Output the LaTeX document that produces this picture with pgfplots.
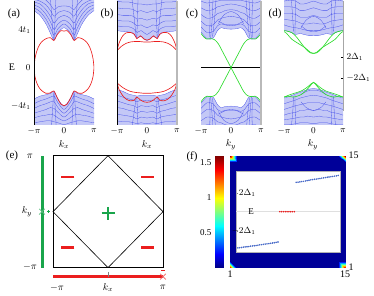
\documentclass[border=0pt]{standalone}
\usepackage{fontspec}
\setmainfont{Liberation Serif}
\usepackage{pgfplots}
\pgfplotsset{compat=1.18}
\usepackage{pgfplotstable}

\definecolor{bfillc}{RGB}{196,200,246}
\definecolor{blinec}{RGB}{75,85,235}
\definecolor{redc}{RGB}{235,30,30}
\definecolor{greenc}{RGB}{45,220,45}
\definecolor{greenE}{RGB}{25,165,75}
\definecolor{dotc}{RGB}{70,105,200}

\pgfplotstableread{
k env l1 l2 l3 l4 l5
-1 6.0 6.3 6.6 6.9 7.2 7.5
-0.8 5.5 5.9 6.3 6.7 7.0 7.4
-0.6 4.6 5.1 5.6 6.1 6.6 7.1
-0.45 3.6 4.2 4.8 5.4 6.0 6.6
-0.33 2.9 3.4 4.0 4.7 5.4 6.1
-0.2 3.7 4.1 4.6 5.2 5.8 6.4
0 4.2 4.6 5.0 5.5 6.0 6.5
0.2 3.7 4.1 4.6 5.2 5.8 6.4
0.33 2.9 3.4 4.0 4.7 5.4 6.1
0.45 3.6 4.2 4.8 5.4 6.0 6.6
0.6 4.6 5.1 5.6 6.1 6.6 7.1
0.8 5.5 5.9 6.3 6.7 7.0 7.4
1 6.0 6.3 6.6 6.9 7.2 7.5
}\aU
\pgfplotstableread{
k env l1 l2 l3 l4 l5
-1 -3.3 -3.8 -4.3 -4.8 -5.3 -5.8
-0.8 -3.0 -3.5 -4.0 -4.6 -5.1 -5.7
-0.6 -2.85 -3.3 -3.8 -4.4 -5.0 -5.6
-0.45 -2.7 -3.1 -3.6 -4.2 -4.9 -5.6
-0.33 -2.5 -3.0 -3.6 -4.3 -5.0 -5.7
-0.2 -3.3 -3.7 -4.2 -4.7 -5.3 -5.8
0 -4.05 -4.4 -4.8 -5.2 -5.6 -6.0
0.2 -3.3 -3.7 -4.2 -4.7 -5.3 -5.8
0.33 -2.5 -3.0 -3.6 -4.3 -5.0 -5.7
0.45 -2.7 -3.1 -3.6 -4.2 -4.9 -5.6
0.6 -2.85 -3.3 -3.8 -4.4 -5.0 -5.6
0.8 -3.0 -3.5 -4.0 -4.6 -5.1 -5.7
1 -3.3 -3.8 -4.3 -4.8 -5.3 -5.8
}\aL
\pgfplotstableread{
k env l1 l2 l3 l4 l5
-1 3.9 4.4 5.0 5.6 6.3 7.0
-0.8 3.8 4.3 4.9 5.5 6.2 6.9
-0.6 3.75 4.3 4.9 5.5 6.2 6.9
-0.45 3.6 4.1 4.7 5.4 6.1 6.8
-0.33 3.1 3.7 4.4 5.1 5.9 6.7
-0.2 3.3 3.9 4.5 5.2 6.0 6.7
0 2.85 3.5 4.2 5.0 5.8 6.6
0.2 3.3 3.9 4.5 5.2 6.0 6.7
0.33 3.1 3.7 4.4 5.1 5.9 6.7
0.45 3.6 4.1 4.7 5.4 6.1 6.8
0.6 3.75 4.3 4.9 5.5 6.2 6.9
0.8 3.8 4.3 4.9 5.5 6.2 6.9
1 3.9 4.4 5.0 5.6 6.3 7.0
}\bU
\pgfplotstableread{
k env l1 l2 l3 l4 l5
-1 -2.3 -2.9 -3.5 -4.2 -4.9 -5.6
-0.8 -2.5 -3.1 -3.7 -4.3 -5.0 -5.7
-0.6 -2.8 -3.3 -3.9 -4.5 -5.1 -5.7
-0.45 -2.9 -3.4 -4.0 -4.6 -5.2 -5.8
-0.33 -3.0 -3.6 -4.2 -4.8 -5.4 -5.9
-0.2 -2.9 -3.4 -4.0 -4.6 -5.2 -5.8
0 -2.9 -3.5 -4.1 -4.7 -5.3 -5.9
0.2 -2.9 -3.4 -4.0 -4.6 -5.2 -5.8
0.33 -3.0 -3.6 -4.2 -4.8 -5.4 -5.9
0.45 -2.9 -3.4 -4.0 -4.6 -5.2 -5.8
0.6 -2.8 -3.3 -3.9 -4.5 -5.1 -5.7
0.8 -2.5 -3.1 -3.7 -4.3 -5.0 -5.7
1 -2.3 -2.9 -3.5 -4.2 -4.9 -5.6
}\bL
\pgfplotstableread{
k env l1 l2 l3 l4 l5
-1 3.75 4.3 4.9 5.6 6.3 7.0
-0.8 3.05 3.7 4.4 5.2 6.0 6.8
-0.6 3.1 3.8 4.5 5.3 6.1 6.9
-0.45 3.9 4.4 5.0 5.7 6.4 7.0
-0.33 4.2 4.6 5.2 5.8 6.5 7.1
-0.2 4.1 4.5 5.3 6.0 6.6 7.1
0 4.05 4.4 5.4 6.1 6.7 7.1
0.2 4.1 4.5 5.3 6.0 6.6 7.1
0.33 4.2 4.6 5.2 5.8 6.5 7.1
0.45 3.9 4.4 5.0 5.7 6.4 7.0
0.6 3.1 3.8 4.5 5.3 6.1 6.9
0.8 3.05 3.7 4.4 5.2 6.0 6.8
1 3.75 4.3 4.9 5.6 6.3 7.0
}\cU
\pgfplotstableread{
k env l1 l2 l3 l4 l5
-1 -3.75 -4.3 -4.9 -5.6 -6.3 -7.0
-0.8 -3.05 -3.7 -4.4 -5.2 -6.0 -6.8
-0.6 -3.1 -3.8 -4.5 -5.3 -6.1 -6.9
-0.45 -3.9 -4.4 -5.0 -5.7 -6.4 -7.0
-0.33 -4.2 -4.6 -5.2 -5.8 -6.5 -7.1
-0.2 -4.1 -4.5 -5.3 -6.0 -6.6 -7.1
0 -4.05 -4.4 -5.4 -6.1 -6.7 -7.1
0.2 -4.1 -4.5 -5.3 -6.0 -6.6 -7.1
0.33 -4.2 -4.6 -5.2 -5.8 -6.5 -7.1
0.45 -3.9 -4.4 -5.0 -5.7 -6.4 -7.0
0.6 -3.1 -3.8 -4.5 -5.3 -6.1 -6.9
0.8 -3.05 -3.7 -4.4 -5.2 -6.0 -6.8
1 -3.75 -4.3 -4.9 -5.6 -6.3 -7.0
}\cL
\pgfplotstableread{
k env l1 l2 l3 l4 l5
-1 3.95 4.5 5.1 5.7 6.4 7.0
-0.8 3.75 4.3 5.0 5.7 6.4 7.1
-0.6 3.5 4.2 4.9 5.6 6.3 7.0
-0.45 3.6 4.1 4.7 5.3 6.0 6.7
-0.33 3.5 4.0 4.6 5.3 6.0 6.7
-0.2 3.4 3.9 4.6 5.3 6.1 6.8
0 3.4 3.9 4.7 5.5 6.3 7.0
0.2 3.4 3.9 4.6 5.3 6.1 6.8
0.33 3.5 4.0 4.6 5.3 6.0 6.7
0.45 3.6 4.1 4.7 5.3 6.0 6.7
0.6 3.5 4.2 4.9 5.6 6.3 7.0
0.8 3.75 4.3 5.0 5.7 6.4 7.1
1 3.95 4.5 5.1 5.7 6.4 7.0
}\dU
\pgfplotstableread{
k env l1 l2 l3 l4 l5
-1 -3.2 -3.8 -4.4 -5.0 -5.5 -6.0
-0.8 -3.0 -3.6 -4.2 -4.8 -5.4 -6.0
-0.6 -2.75 -3.4 -4.0 -4.7 -5.3 -5.9
-0.45 -2.6 -3.2 -3.9 -4.5 -5.2 -5.8
-0.33 -2.45 -3.1 -3.8 -4.5 -5.2 -5.8
-0.2 -2.3 -3.0 -3.7 -4.4 -5.1 -5.8
0 -2.2 -2.9 -3.7 -4.5 -5.2 -5.9
0.2 -2.3 -3.0 -3.7 -4.4 -5.1 -5.8
0.33 -2.45 -3.1 -3.8 -4.5 -5.2 -5.8
0.45 -2.6 -3.2 -3.9 -4.5 -5.2 -5.8
0.6 -2.75 -3.4 -4.0 -4.7 -5.3 -5.9
0.8 -3.0 -3.6 -4.2 -4.8 -5.4 -6.0
1 -3.2 -3.8 -4.4 -5.0 -5.5 -6.0
}\dL

\pgfplotsset{
  band/.style={anchor=south west, scale only axis, width=60pt, height=124pt,
    xmin=-1, xmax=1, ymin=-6, ymax=7.05,
    axis line style={draw=none}, xtick={-1,0,1}, xticklabels={$-\pi$,$0$,$\pi$},
    ytick=\empty, major tick length=0pt,
    tick label style={font=\fontsize{9}{10}\selectfont}},
  bl/.style={draw=blinec, line width=0.3pt, smooth, no markers},
  edge/.style={line width=0.65pt, smooth, no markers},
}
\pgfplotsset{/pgf/number format/assume math mode=true}

\newcommand{\bulk}[2]{%
  \addplot[fill=bfillc, draw=none, smooth, no markers] table[x=k,y=env]{#1} -- (axis cs:1,#2) -- (axis cs:-1,#2) -- cycle;
  \addplot[bl] table[x=k,y=env]{#1};
  \addplot[bl] table[x=k,y=l1]{#1};
  \addplot[bl] table[x=k,y=l2]{#1};
  \addplot[bl] table[x=k,y=l3]{#1};
  \addplot[bl] table[x=k,y=l4]{#1};
  \addplot[bl] table[x=k,y=l5]{#1};
}

\begin{document}
\begin{tikzpicture}
\path (0pt,0pt) rectangle (374pt,295pt);

% ---------- (a)
\begin{axis}[band, at={(34pt,171pt)}, ytick={-4,0,4}, yticklabels={$-4t_1$,$0$,$4t_1$}]
\bulk{\aU}{7.4}
\bulk{\aL}{-6.4}
\addplot[bl] coordinates {(-0.45,7.2) (-0.40,5.0) (-0.35,3.0)};
\addplot[bl] coordinates {(-0.27,7.2) (-0.30,5.0) (-0.33,3.0)};
\addplot[bl] coordinates {(0.45,7.2) (0.40,5.0) (0.35,3.0)};
\addplot[bl] coordinates {(0.27,7.2) (0.30,5.0) (0.33,3.0)};
\addplot[bl] coordinates {(-0.42,-6.2) (-0.38,-4.5) (-0.35,-2.6)};
\addplot[bl] coordinates {(-0.26,-6.2) (-0.29,-4.5) (-0.32,-2.6)};
\addplot[bl] coordinates {(0.42,-6.2) (0.38,-4.5) (0.35,-2.6)};
\addplot[bl] coordinates {(0.26,-6.2) (0.29,-4.5) (0.32,-2.6)};
\addplot[edge, redc] coordinates {(-1,0) (-0.97,0.9) (-0.92,1.6) (-0.85,2.2) (-0.75,2.7) (-0.6,3.05) (-0.45,3.15) (-0.34,2.85) (-0.22,3.5) (-0.1,3.9) (0,3.85) (0.1,3.9) (0.22,3.5) (0.34,2.85) (0.45,3.15) (0.6,3.05) (0.75,2.7) (0.85,2.2) (0.92,1.6) (0.97,0.9) (1,0)};
\addplot[edge, redc] coordinates {(-1,0) (-0.97,-0.9) (-0.92,-1.5) (-0.85,-2.0) (-0.75,-2.4) (-0.6,-2.7) (-0.45,-2.65) (-0.34,-2.45) (-0.22,-3.2) (-0.1,-3.85) (0,-4.0) (0.1,-3.85) (0.22,-3.2) (0.34,-2.45) (0.45,-2.65) (0.6,-2.7) (0.75,-2.4) (0.85,-2.0) (0.92,-1.5) (0.97,-0.9) (1,0)};
\end{axis}

% ---------- (b)
\begin{axis}[band, at={(117pt,171pt)}]
\bulk{\bU}{7.4}
\bulk{\bL}{-6.4}
\addplot[bl] coordinates {(-0.5,7.2) (-0.42,5) (-0.36,3.2)};
\addplot[bl] coordinates {(-0.3,7.2) (-0.32,5) (-0.34,3.2)};
\addplot[bl] coordinates {(0.5,7.2) (0.42,5) (0.36,3.2)};
\addplot[bl] coordinates {(0.3,7.2) (0.32,5) (0.34,3.2)};
\addplot[bl] coordinates {(-0.5,-6.2) (-0.42,-4.5) (-0.36,-3.1)};
\addplot[bl] coordinates {(-0.3,-6.2) (-0.32,-4.5) (-0.34,-3.1)};
\addplot[bl] coordinates {(0.5,-6.2) (0.42,-4.5) (0.36,-3.1)};
\addplot[bl] coordinates {(0.3,-6.2) (0.32,-4.5) (0.34,-3.1)};
\addplot[edge, redc] coordinates {(-1,1.8) (-0.93,2.6) (-0.82,3.3) (-0.7,3.65) (-0.55,3.7) (-0.42,3.5) (-0.34,3.05) (-0.22,3.35) (-0.1,3.0) (0,2.9) (0.1,3.0) (0.22,3.35) (0.34,3.05) (0.42,3.5) (0.55,3.7) (0.7,3.65) (0.82,3.3) (0.93,2.6) (1,1.8)};
\addplot[edge, redc] coordinates {(-1,1.8) (-0.85,2.25) (-0.7,2.55) (-0.55,2.7) (-0.4,2.75) (-0.25,2.75) (-0.1,2.7) (0,2.7) (0.1,2.7) (0.25,2.75) (0.4,2.75) (0.55,2.7) (0.7,2.55) (0.85,2.25) (1,1.8)};
\addplot[edge, redc] coordinates {(-1,-1.6) (-0.85,-2.0) (-0.7,-2.3) (-0.55,-2.5) (-0.4,-2.6) (-0.25,-2.65) (-0.1,-2.7) (0,-2.7) (0.1,-2.7) (0.25,-2.65) (0.4,-2.6) (0.55,-2.5) (0.7,-2.3) (0.85,-2.0) (1,-1.6)};
\addplot[edge, redc] coordinates {(-1,-1.6) (-0.93,-2.3) (-0.82,-2.9) (-0.7,-3.3) (-0.55,-3.5) (-0.42,-3.4) (-0.34,-3.1) (-0.22,-3.4) (-0.1,-3.6) (0,-3.65) (0.1,-3.6) (0.22,-3.4) (0.34,-3.1) (0.42,-3.4) (0.55,-3.5) (0.7,-3.3) (0.82,-2.9) (0.93,-2.3) (1,-1.6)};
\end{axis}

% ---------- (c)
\begin{axis}[band, at={(201pt,171pt)}]
\bulk{\cU}{7.4}
\bulk{\cL}{-6.4}
\addplot[bl] coordinates {(-0.72,7.2) (-0.7,5) (-0.72,3.2)};
\addplot[bl] coordinates {(-0.6,7.2) (-0.63,5) (-0.68,3.1)};
\addplot[bl] coordinates {(-0.5,7.2) (-0.55,5) (-0.62,3.2)};
\addplot[bl] coordinates {(0.72,7.2) (0.7,5) (0.72,3.2)};
\addplot[bl] coordinates {(0.6,7.2) (0.63,5) (0.68,3.1)};
\addplot[bl] coordinates {(0.5,7.2) (0.55,5) (0.62,3.2)};
\addplot[bl] coordinates {(-0.72,-7.2) (-0.7,-5) (-0.72,-3.2)};
\addplot[bl] coordinates {(-0.6,-7.2) (-0.63,-5) (-0.68,-3.1)};
\addplot[bl] coordinates {(-0.5,-7.2) (-0.55,-5) (-0.62,-3.2)};
\addplot[bl] coordinates {(0.72,-7.2) (0.7,-5) (0.72,-3.2)};
\addplot[bl] coordinates {(0.6,-7.2) (0.63,-5) (0.68,-3.1)};
\addplot[bl] coordinates {(0.5,-7.2) (0.55,-5) (0.62,-3.2)};
\addplot[bl] coordinates {(-0.42,4.6) (-0.25,5.5) (0,5.9) (0.25,5.5) (0.42,4.6)};
\addplot[bl] coordinates {(-0.42,4.9) (-0.2,4.55) (0,4.5) (0.2,4.55) (0.42,4.9)};
\addplot[bl] coordinates {(-0.42,-4.6) (-0.25,-5.5) (0,-5.9) (0.25,-5.5) (0.42,-4.6)};
\addplot[bl] coordinates {(-0.42,-4.9) (-0.2,-4.55) (0,-4.5) (0.2,-4.55) (0.42,-4.9)};
\addplot[black, line width=0.6pt] coordinates {(-1,0) (1,0)};
\addplot[edge, greenc] coordinates {(-1,3.6) (-0.9,3.2) (-0.8,3.0) (-0.7,3.05) (-0.55,2.95) (-0.42,2.5) (-0.3,1.8) (-0.15,0.9) (0,0) (0.15,-0.9) (0.3,-1.8) (0.42,-2.5) (0.55,-2.95) (0.7,-3.05) (0.8,-3.0) (0.9,-3.2) (1,-3.6)};
\addplot[edge, greenc] coordinates {(1,3.6) (0.9,3.2) (0.8,3.0) (0.7,3.05) (0.55,2.95) (0.42,2.5) (0.3,1.8) (0.15,0.9) (0,0) (-0.15,-0.9) (-0.3,-1.8) (-0.42,-2.5) (-0.55,-2.95) (-0.7,-3.05) (-0.8,-3.0) (-0.9,-3.2) (-1,-3.6)};
\end{axis}

% ---------- (d)
\begin{axis}[band, at={(284pt,171pt)}, width=59pt, ytick={-1.1,1.1}, yticklabels={$-2\Delta_1$,$2\Delta_1$}, yticklabel pos=right, ytick pos=right, major tick length=2pt, tick align=inside, xtick style={draw=none}, ytick style={draw=black, line width=0.5pt}]
\bulk{\dU}{7.4}
\bulk{\dL}{-6.4}
\addplot[bl] coordinates {(-0.75,7.2) (-0.7,5) (-0.68,3.8)};
\addplot[bl] coordinates {(-0.6,7.2) (-0.62,5) (-0.63,3.6)};
\addplot[bl] coordinates {(0.75,7.2) (0.7,5) (0.68,3.8)};
\addplot[bl] coordinates {(0.6,7.2) (0.62,5) (0.63,3.6)};
\addplot[bl] coordinates {(-0.75,-6.2) (-0.7,-4.5) (-0.68,-3.0)};
\addplot[bl] coordinates {(-0.6,-6.2) (-0.62,-4.5) (-0.63,-2.9)};
\addplot[bl] coordinates {(0.75,-6.2) (0.7,-4.5) (0.68,-3.0)};
\addplot[bl] coordinates {(0.6,-6.2) (0.62,-4.5) (0.63,-2.9)};
\addplot[bl] coordinates {(-0.42,4.2) (-0.25,5.0) (0,5.4) (0.25,5.0) (0.42,4.2)};
\addplot[bl] coordinates {(-0.42,4.4) (-0.2,3.9) (0,3.8) (0.2,3.9) (0.42,4.4)};
\addplot[bl] coordinates {(-0.42,-2.8) (-0.2,-2.45) (0,-2.4) (0.2,-2.45) (0.42,-2.8)};
\addplot[bl] coordinates {(-0.42,-3.6) (-0.25,-4.2) (0,-4.5) (0.25,-4.2) (0.42,-3.6)};
\addplot[edge, greenc] coordinates {(-1,3.9) (-0.74,3.7) (-0.57,3.2) (-0.4,2.5) (-0.23,1.86) (-0.1,1.55) (0,1.5) (0.1,1.55) (0.23,1.86) (0.4,2.5) (0.57,3.2) (0.74,3.7) (1,3.9)};
\addplot[edge, greenc] coordinates {(-1,3.8) (-0.91,3.6) (-0.74,3.0) (-0.52,2.55) (-0.29,2.1) (-0.12,1.65) (0,1.5) (0.12,1.65) (0.29,2.1) (0.52,2.55) (0.74,3.0) (0.91,3.6) (1,3.8)};
\addplot[edge, greenc] coordinates {(-1,-3.1) (-0.8,-2.85) (-0.6,-2.65) (-0.45,-2.5) (-0.3,-2.25) (-0.15,-1.9) (0,-1.55) (0.15,-1.9) (0.3,-2.25) (0.45,-2.5) (0.6,-2.65) (0.8,-2.85) (1,-3.1)};
\addplot[edge, greenc] coordinates {(-1,-3.1) (-0.85,-3.0) (-0.7,-3.1) (-0.55,-3.0) (-0.4,-2.8) (-0.25,-2.4) (-0.12,-1.95) (0,-1.55) (0.12,-1.95) (0.25,-2.4) (0.4,-2.8) (0.55,-3.0) (0.7,-3.1) (0.85,-3.0) (1,-3.1)};
\end{axis}

% frame lines of the band panels
\draw[black, line width=0.7pt] (34pt,171pt) -- (34pt,295pt);
\draw[black, line width=0.7pt] (117pt,171pt) -- (117pt,295pt);
\draw[gray!55, line width=1.3pt] (177pt,171pt) -- (177pt,295pt);
\draw[gray!55, line width=1.3pt] (261pt,171pt) -- (261pt,295pt);
\draw[gray!70, line width=0.9pt] (343pt,185pt) -- (343pt,295pt);

% labels top row
\node[font=\fontsize{11}{12}\selectfont] at (14pt,282pt) {(a)};
\node[font=\fontsize{11}{12}\selectfont] at (107pt,282pt) {(b)};
\node[font=\fontsize{11}{12}\selectfont] at (192pt,282pt) {(c)};
\node[font=\fontsize{11}{12}\selectfont] at (275pt,282pt) {(d)};
\node[font=\fontsize{10}{11}\selectfont] at (12pt,228pt) {E};
\node[font=\fontsize{10}{11}\selectfont] at (64pt,151pt) {$k_x$};
\node[font=\fontsize{10}{11}\selectfont] at (147pt,151pt) {$k_x$};
\node[font=\fontsize{10}{11}\selectfont] at (231pt,151pt) {$k_y$};
\node[font=\fontsize{10}{11}\selectfont] at (313pt,151pt) {$k_y$};

% ---------- (e)
\begin{axis}[anchor=south west, at={(53pt,28pt)}, scale only axis, width=110pt, height=112pt,
  xmin=-1, xmax=1, ymin=-1, ymax=1, hide axis, clip=false]
\addplot[black, line width=0.6pt] coordinates {(-1,-1) (1,-1) (1,1) (-1,1) (-1,-1)};
\addplot[black, line width=0.6pt] coordinates {(0,-1) (1,0) (0,1) (-1,0) (0,-1)};
\addplot[only marks, mark=-, mark size=6.5pt, redc, line width=2.2pt] coordinates {(-0.73,0.625) (0.71,0.625) (-0.73,-0.64) (0.71,-0.64)};
\addplot[only marks, mark=+, mark size=6.5pt, greenE, line width=2.2pt] coordinates {(0,-0.03)};
\addplot[greenE, line width=3pt] coordinates {(-1.2,-1) (-1.2,1)};
\addplot[only marks, mark=x, mark size=4pt, greenE!70, line width=0.8pt] coordinates {(-1.2,0)};
\addplot[only marks, mark=+, mark size=1.6pt, greenE, line width=0.6pt] coordinates {(-1.08,0)};
\addplot[redc, line width=3pt] coordinates {(-1,-1.16) (1,-1.16)};
\addplot[only marks, mark=x, mark size=4pt, redc!70, line width=0.8pt] coordinates {(1,-1.16)};
\addplot[only marks, mark=-, mark size=1.6pt, redc, line width=0.6pt] coordinates {(1,-1.04)};
\addplot[only marks, mark=|, mark size=2.5pt, gray, line width=0.5pt] coordinates {(0,-1.12)};
\end{axis}
\node[font=\fontsize{11}{12}\selectfont] at (12pt,140pt) {(e)};
\node[font=\fontsize{10}{11}\selectfont] at (30pt,139pt) {$\pi$};
\node[font=\fontsize{10}{11}\selectfont] at (30pt,29pt) {$-\pi$};
\node[font=\fontsize{10}{11}\selectfont] at (27pt,84pt) {$k_y$};
\node[font=\fontsize{10}{11}\selectfont] at (57pt,8pt) {$-\pi$};
\node[font=\fontsize{10}{11}\selectfont] at (108pt,8pt) {$k_x$};
\node[font=\fontsize{10}{11}\selectfont] at (163pt,8pt) {$\pi$};

% ---------- (f) heat map
\begin{axis}[anchor=south west, at={(230pt,28pt)}, scale only axis, width=115pt, height=112pt,
  xmin=1, xmax=15, ymin=1, ymax=15, xtick={1,15}, ytick={1,15}, yticklabel pos=right,
  major tick length=0pt, axis line style={draw=none}, colormap/jet,
  point meta min=0, point meta max=1.6,
  tick label style={font=\fontsize{10}{11}\selectfont}]
\addplot[surf, shader=interp, mesh/cols=4, point meta=explicit] table[meta=c] {
x y c
1 1 1.55
1.8 1 0.04
14.2 1 0.04
15 1 1.55
1 1.8 0.04
1.8 1.8 0.04
14.2 1.8 0.04
15 1.8 0.04
1 14.2 0.04
1.8 14.2 0.04
14.2 14.2 0.04
15 14.2 0.04
1 15 1.55
1.8 15 0.04
14.2 15 0.04
15 15 1.55
};
\end{axis}

% colour bar
\begin{axis}[anchor=south west, at={(215pt,28pt)}, scale only axis, width=8pt, height=112pt,
  xmin=0, xmax=1, ymin=0, ymax=1.6, xtick=\empty, ytick={0.5,1,1.5},
  major tick length=0pt, axis line style={draw=none}, colormap/jet,
  point meta min=0, point meta max=1.6,
  tick label style={font=\fontsize{9}{10}\selectfont}]
\addplot[surf, shader=interp, mesh/cols=2, point meta=explicit] table[meta=c] {
x y c
0 0 0
1 0 0
0 0.2 0.2
1 0.2 0.2
0 0.4 0.4
1 0.4 0.4
0 0.6 0.6
1 0.6 0.6
0 0.8 0.8
1 0.8 0.8
0 1.0 1.0
1 1.0 1.0
0 1.2 1.2
1 1.2 1.2
0 1.4 1.4
1 1.4 1.4
0 1.6 1.6
1 1.6 1.6
};
\end{axis}

% inset
\begin{axis}[anchor=south west, at={(236pt,43pt)}, scale only axis, width=104pt, height=81pt,
  xmin=0, xmax=57, ymin=-4.3, ymax=4.2, xtick=\empty, ytick={-2,2}, yticklabels={},
  ytick pos=left, major tick length=2pt, tick align=inside,
  axis background/.style={fill=white}, axis line style={gray!60, line width=0.8pt}]
\addplot[gray!25, line width=0.6pt] coordinates {(0,0) (57,0)};
\addplot[only marks, mark=*, mark size=0.55pt, dotc] coordinates {(1,-3.80) (2,-3.78) (3,-3.76) (4,-3.72) (5,-3.70) (6,-3.68) (7,-3.66) (8,-3.62) (9,-3.60) (10,-3.58) (11,-3.55) (12,-3.52) (13,-3.48) (14,-3.46) (15,-3.43) (16,-3.40) (17,-3.38) (18,-3.35) (19,-3.32) (20,-3.29) (21,-3.26) (22,-3.22) (23,-3.18)};
\addplot[only marks, mark=*, mark size=0.55pt, redc] coordinates {(24,0) (25,0) (26,0) (27,0) (28,0) (29,0) (30,0) (31,0) (32,0)};
\addplot[only marks, mark=*, mark size=0.55pt, dotc] coordinates {(33,3.08) (34,3.10) (35,3.13) (36,3.16) (37,3.18) (38,3.22) (39,3.26) (40,3.30) (41,3.34) (42,3.37) (43,3.40) (44,3.42) (45,3.45) (46,3.48) (47,3.52) (48,3.55) (49,3.58) (50,3.61) (51,3.64) (52,3.67) (53,3.70) (54,3.73) (55,3.76) (56,3.80)};
\end{axis}
\node[font=\fontsize{9}{10}\selectfont, anchor=east] at (259pt,103pt) {$2\Delta_1$};
\node[font=\fontsize{9}{10}\selectfont] at (251pt,84pt) {E};
\node[font=\fontsize{9}{10}\selectfont, anchor=east] at (259pt,65pt) {$-2\Delta_1$};
\node[font=\fontsize{11}{12}\selectfont] at (192pt,139pt) {(f)};
\end{tikzpicture}
\end{document}
